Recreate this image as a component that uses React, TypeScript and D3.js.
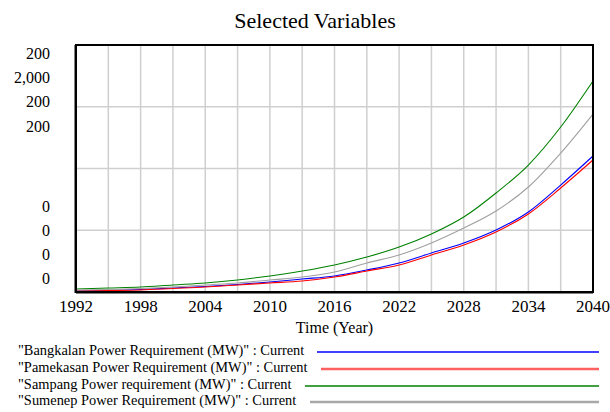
import React from "react";
import * as d3 from "d3";

const years = [1992, 1995, 1998, 2001, 2004, 2007, 2010, 2013, 2016, 2019, 2022, 2025, 2028, 2031, 2034, 2037, 2040];
const bangkalan = [8, 12, 20, 32, 45, 61, 81, 105, 130, 178, 235, 316, 397, 502, 648, 866, 1101];
const pamekasan = [8, 12, 16, 28, 40, 57, 73, 89, 121, 170, 219, 300, 381, 486, 632, 842, 1069];
const sampang = [24, 32, 40, 57, 73, 97, 130, 170, 219, 283, 364, 470, 607, 802, 1028, 1336, 1709];
const sumenep = [16, 20, 28, 40, 57, 73, 97, 121, 162, 235, 300, 397, 518, 656, 850, 1125, 1441];

const xTickLabels = [1992, 1998, 2004, 2010, 2016, 2022, 2028, 2034, 2040];
const topLabels = ["200", "2,000", "200", "200"];
const bottomLabels = ["0", "0", "0", "0"];
const legendNames = [
  '"Bangkalan Power Requirement (MW)" : Current',
  '"Pamekasan Power Requirement (MW)" : Current',
  '"Sampang Power requirement (MW)" : Current',
  '"Sumenep Power Requirement (MW)" : Current',
];
const seriesList = [bangkalan, pamekasan, sampang, sumenep];
const colors = ["#0000ff", "#ff0000", "#008000", "#a0a0a0"];
const legendColors = ["#0000ff", "#ff6060", "#008000", "#a8a8a8"];
const legendWidths = [1.5, 2.5, 1.5, 2.5];

export default function App() {
  const W = 610, H = 412;
  const left = 76, right = 593, top = 45, bottom = 292;
  const x = d3.scaleLinear().domain([1992, 2040]).range([left, right]);
  const y = d3.scaleLinear().domain([0, 2000]).range([bottom, top]);
  const line = d3.line<[number, number]>().x(d => x(d[0])).y(d => y(d[1])).curve(d3.curveMonotoneX);
  const vGrid = d3.range(1992, 2041, 3);
  const hGrid = [500, 1000, 1500];
  const font = "'Liberation Serif', 'Times New Roman', serif";
  const legendLineStart = [317, 321, 305, 310];
  const legendY = [352, 369, 386, 402];
  const topLabelY = [55, 79, 103, 128];
  const bottomLabelY = [208, 232, 256, 280];

  return (
    <svg width={W} height={H} style={{ position: "absolute", left: 0, top: 0, background: "#fff" }} fontFamily={font}>
      <rect x={0} y={0} width={W} height={H} fill="#fff" />
      <text x={315} y={28} fontSize={22} textAnchor="middle" fill="#000">Selected Variables</text>
      {vGrid.map(v => (
        <line key={"v" + v} x1={x(v)} x2={x(v)} y1={top} y2={bottom} stroke="#cfcfcf" strokeWidth={1.5} />
      ))}
      {hGrid.map(v => (
        <line key={"h" + v} x1={left} x2={right} y1={y(v)} y2={y(v)} stroke="#cfcfcf" strokeWidth={1.5} />
      ))}
      {seriesList.map((s, i) => (
        <path key={"s" + i} d={line(years.map((yr, j) => [yr, s[j]] as [number, number])) || ""} fill="none" stroke={colors[i]} strokeWidth={1.1} />
      ))}
      <rect x={left} y={top} width={right - left} height={bottom - top} fill="none" stroke="#000" strokeWidth={2} />
      <line x1={left - 0.5} x2={left - 0.5} y1={top} y2={bottom + 1} stroke="#000" strokeWidth={2} />
      <line x1={left} x2={right} y1={bottom + 0.5} y2={bottom + 0.5} stroke="#000" strokeWidth={2} />
      {topLabels.map((t, i) => (
        <text key={"tl" + i} x={50} y={topLabelY[i]} fontSize={16} textAnchor="end" dominantBaseline="middle">{t}</text>
      ))}
      {bottomLabels.map((t, i) => (
        <text key={"bl" + i} x={50} y={bottomLabelY[i]} fontSize={16} textAnchor="end" dominantBaseline="middle">{t}</text>
      ))}
      {xTickLabels.map(v => (
        <text key={"x" + v} x={x(v)} y={312} fontSize={17} textAnchor="middle">{v}</text>
      ))}
      <text x={(left + right) / 2} y={333} fontSize={16} textAnchor="middle">Time (Year)</text>
      {legendNames.map((n, i) => (
        <g key={"lg" + i}>
          <text x={18} y={legendY[i]} fontSize={14.4} dominantBaseline="middle">{n}</text>
          <line x1={legendLineStart[i]} x2={599} y1={legendY[i]} y2={legendY[i]} stroke={legendColors[i]} strokeWidth={legendWidths[i]} />
        </g>
      ))}
    </svg>
  );
}
